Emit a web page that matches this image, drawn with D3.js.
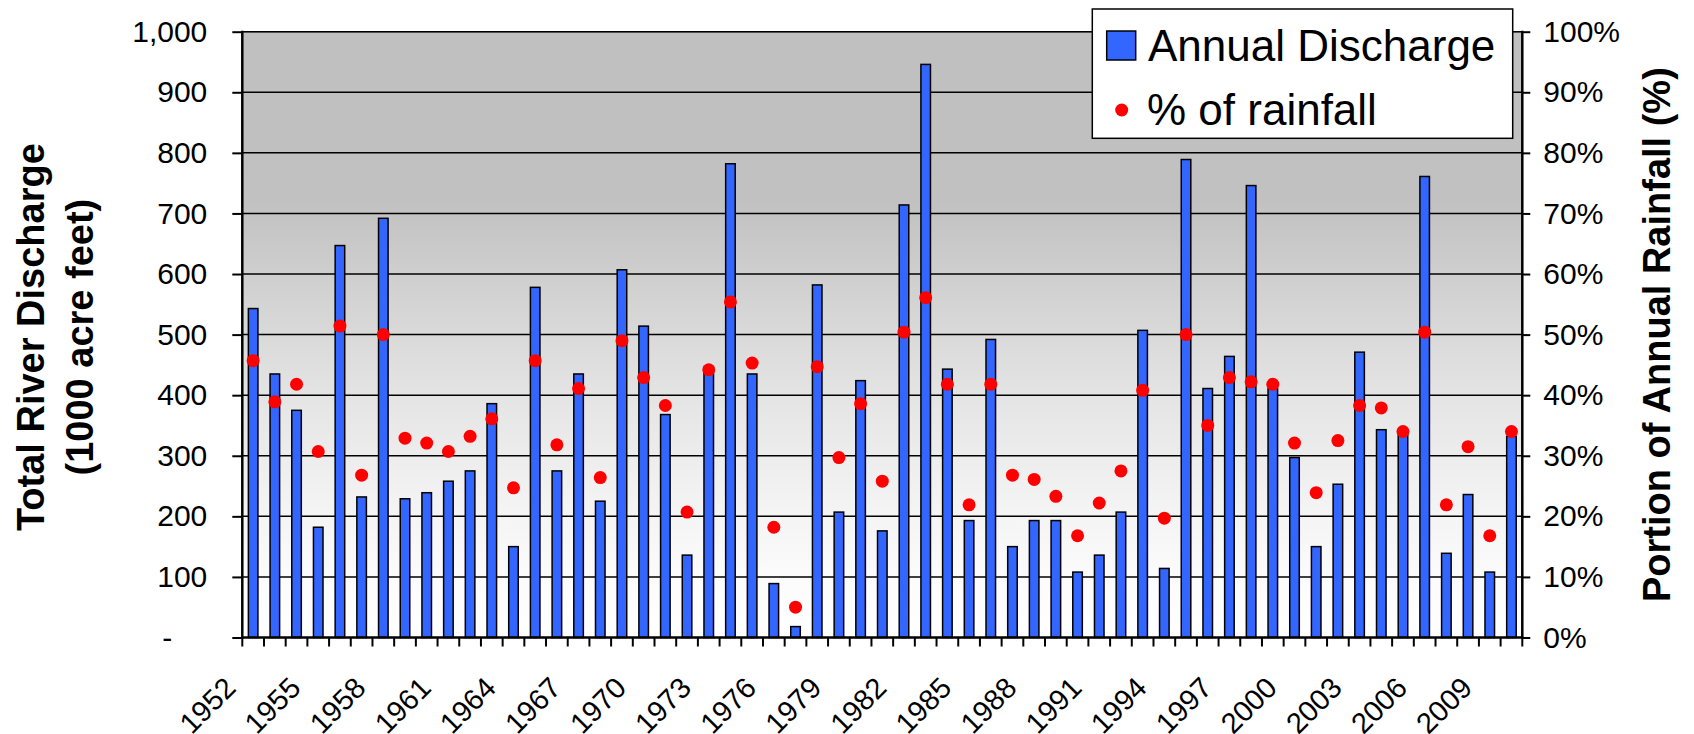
<!DOCTYPE html>
<html>
<head>
<meta charset="utf-8">
<script src="https://cdn.jsdelivr.net/npm/d3@7"></script>
<style>
  html, body { margin: 0; padding: 0; background: #fff; }
  svg { display: block; font-family: "Liberation Sans", Arial, sans-serif; }
</style>
</head>
<body>
<svg id="chart" width="1694" height="734"></svg>
<script>
// ---- data ----
const years = [1952,1953,1954,1955,1956,1957,1958,1959,1960,1961,1962,1963,1964,1965,1966,1967,1968,1969,1970,1971,1972,1973,1974,1975,1976,1977,1978,1979,1980,1981,1982,1983,1984,1985,1986,1987,1988,1989,1990,1991,1992,1993,1994,1995,1996,1997,1998,1999,2000,2001,2002,2003,2004,2005,2006,2007,2008,2009,2010];
const discharge = [543,435,375,182,647,232,692,229,239,258,275,386,150,578,275,435,225,607,514,368,136,446,782,435,89,18,582,207,424,176,714,946,443,193,492,150,193,193,108,136,207,507,114,789,411,464,746,411,297,150,253,471,343,340,761,139,236,108,332];
const pctRainfall = [45.7,38.9,41.8,30.7,51.4,26.8,50.0,32.9,32.1,30.7,33.2,36.1,24.7,45.7,31.8,41.1,26.4,49.0,42.9,38.3,20.7,44.2,55.4,45.3,18.2,5.0,44.7,29.7,38.6,25.8,50.4,56.1,41.8,21.9,41.8,26.8,26.1,23.3,16.8,22.2,27.5,40.8,19.7,50.0,35.0,42.9,42.2,41.8,32.1,23.9,32.5,38.3,37.9,34.0,50.4,21.9,31.5,16.8,34.0];
const leftTicks = [0,100,200,300,400,500,600,700,800,900,1000];
const rightTicks = [0,0.1,0.2,0.3,0.4,0.5,0.6,0.7,0.8,0.9,1.0];
const xTickYears = [1952,1955,1958,1961,1964,1967,1970,1973,1976,1979,1982,1985,1988,1991,1994,1997,2000,2003,2006,2009];
const seriesNames = ["Annual Discharge", "% of rainfall"];
const leftTitle = ["Total River Discharge", "(1000 acre feet)"];
const rightTitle = "Portion of Annual Rainfall (%)";

// ---- layout ----
const L = 242.3, R = 1522.3, T = 31.7, B = 637.5;
const svg = d3.select("#chart");

const x = d3.scaleBand().domain(years).range([L, R]).paddingInner(0.56).paddingOuter(0.28);
const yL = d3.scaleLinear().domain([0, 1000]).range([B, T]);
const yR = d3.scaleLinear().domain([0, 1]).range([B, T]);

// gradient background
const defs = svg.append("defs");
const grad = defs.append("linearGradient").attr("id", "bg").attr("x1", 0).attr("y1", 0).attr("x2", 0).attr("y2", 1);
[[0,"#c0c0c0"],[0.28,"#c1c1c1"],[0.45,"#d4d4d4"],[0.62,"#e6e6e6"],[0.78,"#f3f3f3"],[0.9,"#fbfbfb"],[1,"#ffffff"]]
  .forEach(([o,c]) => grad.append("stop").attr("offset", o).attr("stop-color", c));
svg.append("rect").attr("x", L).attr("y", T).attr("width", R - L).attr("height", B - T).attr("fill", "url(#bg)");

// top border (gray)
svg.append("line").attr("x1", L).attr("x2", R).attr("y1", T).attr("y2", T).attr("stroke", "#808080").attr("stroke-width", 1.5);

// gridlines
svg.append("g").selectAll("line").data(leftTicks.filter(d => d > 0)).join("line")
  .attr("x1", L).attr("x2", R).attr("y1", d => yL(d)).attr("y2", d => yL(d))
  .attr("stroke", "#000").attr("stroke-width", 1.5);

// bars
svg.append("g").selectAll("rect").data(years).join("rect")
  .attr("x", d => x(d)).attr("width", x.bandwidth())
  .attr("y", (d, i) => yL(discharge[i])).attr("height", (d, i) => B - yL(discharge[i]))
  .attr("fill", "#3366ff").attr("stroke", "#000").attr("stroke-width", 1.5);

// dots
svg.append("g").selectAll("circle").data(years).join("circle")
  .attr("cx", d => x(d) + x.bandwidth() / 2)
  .attr("cy", (d, i) => yR(pctRainfall[i] / 100))
  .attr("r", 6.5).attr("fill", "#ff0000");

// left axis
const gL = svg.append("g").attr("transform", `translate(${L},0)`)
  .call(d3.axisLeft(yL).tickValues(leftTicks).tickSize(10).tickPadding(25)
    .tickFormat(d => d === 0 ? "-" : d3.format(",")(d)));
gL.select(".domain").remove();
gL.selectAll(".tick line").attr("stroke", "#000").attr("stroke-width", 2);
gL.selectAll(".tick text").attr("font-size", 30).attr("fill", "#000")
  .attr("font-family", "'Liberation Sans', Arial, sans-serif");
gL.selectAll(".tick").filter(d => d === 0).select("text").attr("x", -70);
svg.append("line").attr("x1", L).attr("x2", L).attr("y1", T - 1).attr("y2", B + 1).attr("stroke", "#000").attr("stroke-width", 2.5);

// right axis
const gR = svg.append("g").attr("transform", `translate(${R},0)`)
  .call(d3.axisRight(yR).tickValues(rightTicks).tickSize(8).tickPadding(13).tickFormat(d3.format(".0%")));
gR.select(".domain").remove();
gR.selectAll(".tick line").attr("stroke", "#000").attr("stroke-width", 2);
gR.selectAll(".tick text").attr("font-size", 30).attr("fill", "#000")
  .attr("font-family", "'Liberation Sans', Arial, sans-serif");
svg.append("line").attr("x1", R).attr("x2", R).attr("y1", T - 1).attr("y2", B + 1).attr("stroke", "#000").attr("stroke-width", 2.5);

// bottom axis: baseline + ticks between categories
svg.append("line").attr("x1", L - 1).attr("x2", R + 1).attr("y1", B).attr("y2", B).attr("stroke", "#000").attr("stroke-width", 2.5);
const step = x.step();
svg.append("g").selectAll("line").data(d3.range(years.length + 1)).join("line")
  .attr("x1", i => L + i * step).attr("x2", i => L + i * step)
  .attr("y1", B).attr("y2", B + 9).attr("stroke", "#000").attr("stroke-width", 2);

// x labels
svg.append("g").selectAll("text").data(xTickYears).join("text")
  .attr("transform", d => `translate(${x(d) + x.bandwidth() / 2 - 23},${B + 45}) rotate(-45)`)
  .attr("text-anchor", "end").attr("dy", "0.35em")
  .attr("font-size", 29).attr("fill", "#000")
  .text(d => d);

// axis titles
const lt = svg.append("text").attr("transform", `translate(0,${(T + B) / 2 + 2.5}) rotate(-90)`)
  .attr("text-anchor", "middle").attr("font-weight", "bold").attr("font-size", 38).attr("fill", "#000");
lt.append("tspan").attr("x", 0).attr("y", 44).text(leftTitle[0]);
lt.append("tspan").attr("x", 0).attr("y", 93).text(leftTitle[1]);

svg.append("text").attr("transform", `translate(1670,${(T + B) / 2}) rotate(-90)`)
  .attr("text-anchor", "middle").attr("font-weight", "bold").attr("font-size", 38).attr("fill", "#000")
  .text(rightTitle);

// legend
const lg = svg.append("g");
lg.append("rect").attr("x", 1092.3).attr("y", 9).attr("width", 420.4).attr("height", 129.3)
  .attr("fill", "#fff").attr("stroke", "#000").attr("stroke-width", 1.5);
lg.append("rect").attr("x", 1106.7).attr("y", 31).attr("width", 29).attr("height", 29)
  .attr("fill", "#3366ff").attr("stroke", "#000").attr("stroke-width", 1.5);
lg.append("circle").attr("cx", 1121.7).attr("cy", 110).attr("r", 6.5).attr("fill", "#ff0000");
lg.append("text").attr("x", 1148).attr("y", 60.7).attr("font-size", 44).attr("fill", "#000").text(seriesNames[0]);
lg.append("text").attr("x", 1147).attr("y", 125).attr("font-size", 44).attr("fill", "#000").text(seriesNames[1]);
</script>
</body>
</html>
